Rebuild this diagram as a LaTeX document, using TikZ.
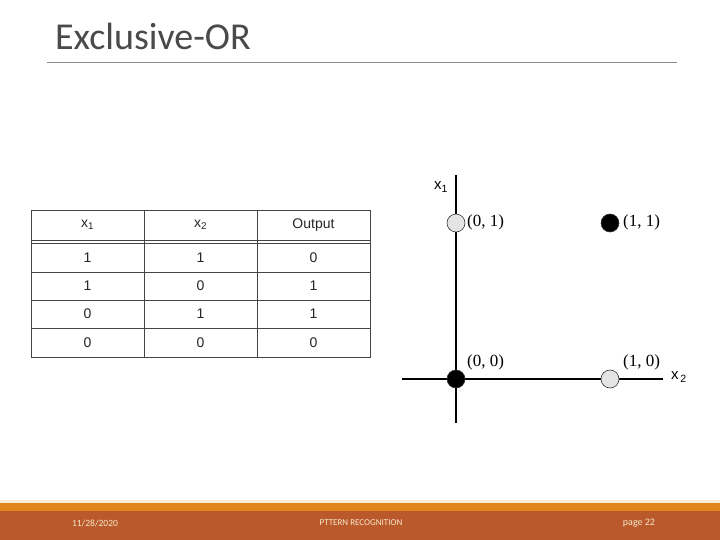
\documentclass[tikz,border=0pt]{standalone}
\usepackage{fontspec}
\setmainfont{Liberation Sans}
\newfontfamily\titlefont{Carlito}
\newfontfamily\timesfont{Liberation Serif}
\usepackage{xcolor}
\usepackage{tikz}

\definecolor{footerrust}{HTML}{BA5A2C}
\definecolor{footerorange}{HTML}{E0861C}
\definecolor{footerpale}{HTML}{F8EED6}
\definecolor{footertext}{HTML}{F6E7C9}
\definecolor{titlegray}{HTML}{4A4A4A}
\definecolor{rulegray}{HTML}{8C8C8C}
\definecolor{gridgray}{HTML}{444444}
\definecolor{ptgray}{HTML}{E4E4E4}

\begin{document}
\begin{tikzpicture}[x=1pt,y=-1pt,
    cell/.style={draw=none, font=\fontsize{14}{16}\selectfont, text=black!85},
    ptlabel/.style={draw=none, anchor=west, inner sep=0pt, font=\timesfont\fontsize{17}{19}\selectfont},
    axislabel/.style={draw=none, inner sep=0pt, font=\fontsize{15}{17}\selectfont},
    pt/.style={circle, draw=black!80, line width=.6pt, minimum size=18pt, inner sep=0pt},
    foot/.style={draw=none, text=footertext, font=\titlefont\fontsize{9.5}{10}\selectfont}]

             \useasboundingbox[fill=white] (0,0) rectangle (720,540);

             % title
             \node[draw=none, anchor=base west, inner sep=0pt, text=titlegray,
                   font=\titlefont\fontsize{38}{40}\selectfont] (title) at (55,50) {Exclusive-OR};
             \draw[rulegray, line width=.8pt] (47,62) -- (677,62);

             % truth table
             \draw[gridgray, line width=.7pt] (31,210) rectangle (370,357);
             \draw[gridgray, line width=.7pt] (144,210) -- (144,357);
             \draw[gridgray, line width=.7pt] (257,210) -- (257,357);
             \draw[gridgray, line width=.7pt] (31,240.5) -- (370,240.5);
             \draw[gridgray, line width=.7pt] (31,243.5) -- (370,243.5);
             \draw[gridgray, line width=.7pt] (31,272) -- (370,272);
             \draw[gridgray, line width=.7pt] (31,300) -- (370,300);
             \draw[gridgray, line width=.7pt] (31,328) -- (370,328);

             \node[cell] (hone) at (87.5,225) {x\textsubscript{1}};
             \node[cell] (htwo) at (200.5,225) {x\textsubscript{2}};
             \node[cell] (hout) at (313.5,225) {Output};

             \node[cell] (aone) at (87.5,257.5) {1};
             \node[cell] (atwo) at (200.5,257.5) {1};
             \node[cell] (aout) at (313.5,257.5) {0};
             \node[cell] (bone) at (87.5,286) {1};
             \node[cell] (btwo) at (200.5,286) {0};
             \node[cell] (bout) at (313.5,286) {1};
             \node[cell] (cone) at (87.5,314) {0};
             \node[cell] (ctwo) at (200.5,314) {1};
             \node[cell] (cout) at (313.5,314) {1};
             \node[cell] (done) at (87.5,342.5) {0};
             \node[cell] (dtwo) at (200.5,342.5) {0};
             \node[cell] (dout) at (313.5,342.5) {0};

             % input plane
             \coordinate (ytop) at (456,175);
             \coordinate (ybot) at (456,423);
             \coordinate (xleft) at (402,379);
             \coordinate (xright) at (663,379);
             \draw[line width=1.6pt] (ybot) -- (ytop);
             \draw[line width=1.6pt] (xleft) -- (xright);

             \node[pt, fill=ptgray] (pzo) at (456,223) {};
             \node[pt, fill=black] (poo) at (610,223) {};
             \node[pt, fill=black] (pzz) at (456,379) {};
             \node[pt, fill=ptgray] (poz) at (610,379) {};

             \node[ptlabel] (lzo) at (467,222) {(0, 1)};
             \node[ptlabel] (loo) at (623,222) {(1, 1)};
             \node[ptlabel] (lzz) at (467,362) {(0, 0)};
             \node[ptlabel] (loz) at (623,362) {(1, 0)};

             \node[axislabel] (xone) at (441,187) {x\textsubscript{1}};
             \node[axislabel] (xtwo) at (679,377) {x\textsubscript{\,2}};

             % footer
             \fill[footerpale] (0,500) rectangle (720,503);
             \fill[footerorange] (0,503) rectangle (720,511);
             \fill[footerrust] (0,511) rectangle (720,540);
             \node[foot] (date) at (95,523) {11/28/2020};
             \node[foot, font=\titlefont\fontsize{9}{10}\selectfont] (course) at (361,523) {PTTERN RECOGNITION};
             \node[foot, font=\titlefont\fontsize{10}{11}\selectfont] (page) at (639,523) {page 22};
             \end{tikzpicture}
\end{document}
